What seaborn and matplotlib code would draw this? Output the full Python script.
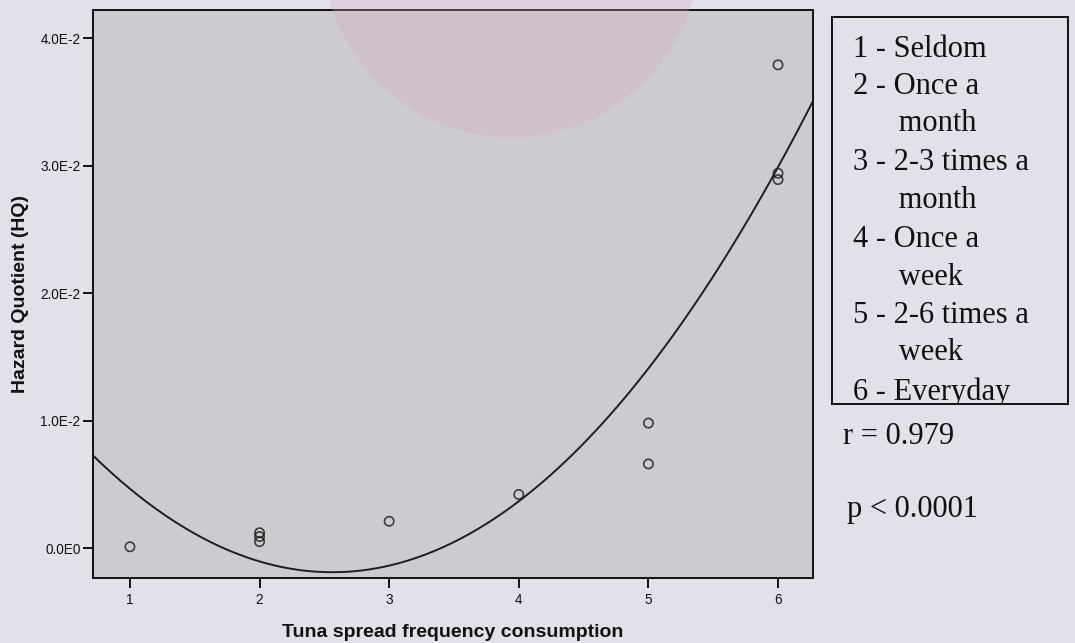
import numpy as np
import pandas as pd
import matplotlib
matplotlib.use("Agg")
import matplotlib.pyplot as plt
from matplotlib.patches import Ellipse
import seaborn as sns

# ---- data ----
frequency = [1, 2, 2, 2, 3, 4, 5, 5, 6, 6, 6]
hq = [0.0001, 0.0012, 0.0009, 0.0005, 0.0021, 0.0042, 0.0098, 0.0066, 0.0379, 0.0294, 0.0289]
x_ticks = [1, 2, 3, 4, 5, 6]
y_ticks = [0.0, 0.01, 0.02, 0.03, 0.04]
y_tick_labels = ["0.0E0", "1.0E-2", "2.0E-2", "3.0E-2", "4.0E-2"]
legend_lines = ["1 - Seldom", "2 - Once a", "      month", "3 - 2-3 times a", "      month",
                "4 - Once a", "      week", "5 - 2-6 times a", "      week", "6 - Everyday"]
r_text = "r = 0.979"
p_text = "p < 0.0001"

df = pd.DataFrame({"freq": frequency, "hq": hq})

sns.set_theme(style="white")
plt.rcParams["font.family"] = ["Liberation Sans", "DejaVu Sans"]

fig_bg = "#e2e0e9"
ax_bg = "#cccbd0"
serif = ["Liberation Serif", "DejaVu Serif"]

W, H = 1075, 643
fig = plt.figure(figsize=(10.75, 6.43), dpi=100, facecolor=fig_bg)
ax = fig.add_axes([0.0865, 0.1011, 0.6698, 0.8833])
ax.set_facecolor(ax_bg)
ax.set_xlim(0.715, 6.27)
ax.set_ylim(-0.00235, 0.0422)

sns.regplot(data=df, x="freq", y="hq", order=2, ci=None, truncate=False, ax=ax,
            scatter_kws=dict(s=45, facecolors="none", edgecolors="#1a1a1a", linewidths=1.2, zorder=4),
            line_kws=dict(color="#1e1e1e", lw=1.4, zorder=4))

ax.set_xticks(x_ticks)
ax.set_xticklabels([str(t) for t in x_ticks])
ax.set_yticks(y_ticks)
ax.set_yticklabels(y_tick_labels)
ax.tick_params(axis="both", direction="out", length=7, width=1.4, color="#111111",
               labelsize=9.8, labelcolor="#111111", left=True, bottom=True)
ax.tick_params(axis="x", pad=4)
ax.tick_params(axis="y", pad=2)
for s in ax.spines.values():
    s.set_color("#111111")
    s.set_linewidth(1.4)
    s.set_visible(True)

ax.set_xlabel("Tuna spread frequency consumption", fontsize=14, fontweight="bold",
              color="#111111", labelpad=12)
ax.set_ylabel("Hazard Quotient (HQ)", fontsize=14, fontweight="bold",
              color="#111111", labelpad=8)

# ---- faint watermark disc at the top ----
fig.patches.append(Ellipse((511 / W, 1 + 52 / H), 2 * 189 / W, 2 * 189 / H,
                           transform=fig.transFigure, facecolor="#d9a6c0",
                           edgecolor="none", alpha=0.28, zorder=1))

# ---- legend box on the right ----
bax = fig.add_axes([0.774, 0.3717, 0.2195, 0.6019])
bax.set_facecolor(fig_bg)
bax.set_xlim(0, 236)
bax.set_ylim(387, 0)
bax.set_xticks([])
bax.set_yticks([])
for s in bax.spines.values():
    s.set_color("#111111")
    s.set_linewidth(1.4)
line_y = [33, 70, 107, 146, 184, 223, 261, 299, 336, 375]
for yy, txt in zip(line_y, legend_lines):
    bax.text(21, yy, txt, fontsize=22, family=serif,
             color="#111111", va="center", ha="left", clip_on=True)

fig.text(843 / W, 1 - 436 / H, r_text, fontsize=22, family=serif,
         color="#111111", va="center", ha="left")
fig.text(847 / W, 1 - 510 / H, p_text, fontsize=22, family=serif,
         color="#111111", va="center", ha="left")

fig.savefig("out.png", dpi=100, facecolor=fig_bg)
